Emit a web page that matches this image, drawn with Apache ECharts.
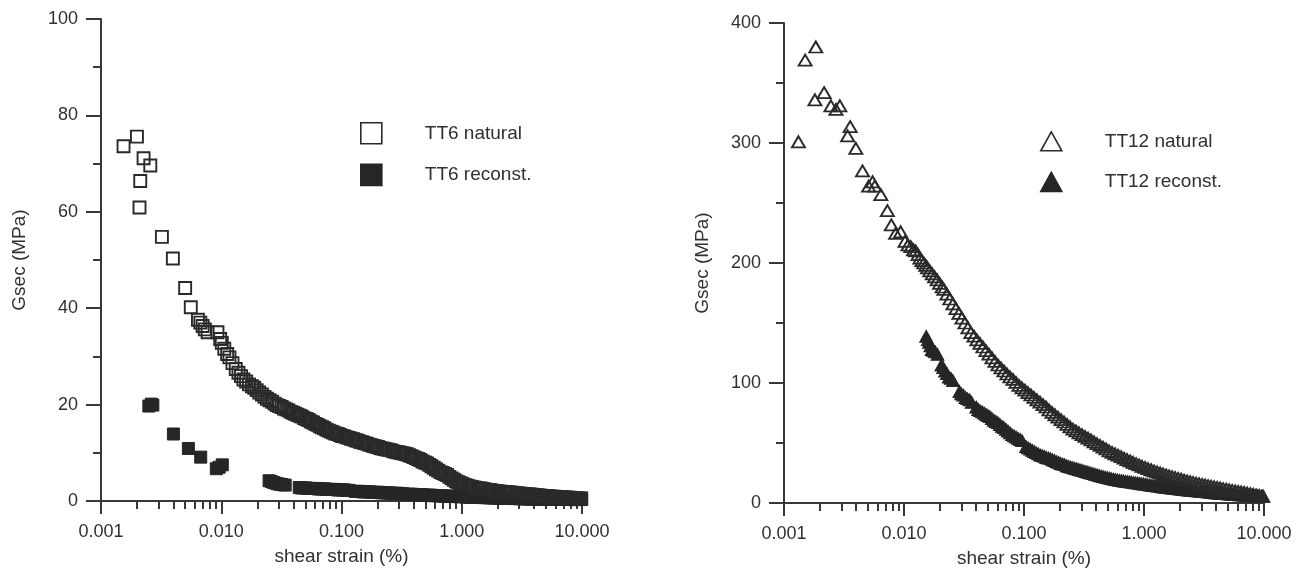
<!DOCTYPE html>
<html><head><meta charset="utf-8">
<script src="https://cdn.jsdelivr.net/npm/echarts@6/dist/echarts.min.js"></script>
<style>html,body{margin:0;padding:0;background:#fff}#c{width:1304px;height:573px}</style>
</head><body><div id="c"></div>
<script>
// ---- tick labels ----
const xTickValues = [0.001, 0.01, 0.1, 1, 10];
const xTickLabels = ['0.001', '0.010', '0.100', '1.000', '10.000'];
const xMinorTicks = [0.002,0.003,0.004,0.005,0.006,0.007,0.008,0.009,
  0.02,0.03,0.04,0.05,0.06,0.07,0.08,0.09,
  0.2,0.3,0.4,0.5,0.6,0.7,0.8,0.9,
  2,3,4,5,6,7,8,9];
const leftYTicks = [0, 20, 40, 60, 80, 100];
const rightYTicks = [0, 100, 200, 300, 400];

// ---- series names ----
const leftNames = ['TT6 natural', 'TT6 reconst.'];
const rightNames = ['TT12 natural', 'TT12 reconst.'];

// ---- TT6 natural: [shear strain %, Gsec MPa] ----
const tt6Natural = [
[0.00154,73.6],[0.00199,75.6],[0.00226,71.1],[0.00257,69.6],[0.00212,66.4],[0.00209,60.9],[0.00321,54.8],[0.00396,50.3],[0.00501,44.2],[0.00558,40.2],
[0.0064,37.6],[0.0067,37.0],[0.0070,36.3],[0.0073,35.6],[0.0077,35.0],[0.0093,35.0],[0.0098,33.6],[0.0101,32.8],[0.0106,31.6],[0.0112,30.5],
[0.0117,29.8],[0.0124,28.6],[0.0132,27.4],[0.0139,26.6],[0.0146,25.9],[0.0153,25.2],[0.0161,24.8],[0.0170,24.2],[0.0180,23.8],[0.0188,23.5],
[0.0197,23.0],[0.0207,22.5],[0.0218,22.1],[0.0229,21.6],[0.0240,21.2],[0.0252,20.9],[0.0265,20.6],[0.0278,20.2],[0.0290,19.9],[0.0303,19.7],
[0.0318,19.5],[0.0332,19.2],[0.0347,19.0],[0.0362,18.8],[0.0378,18.5],[0.0395,18.3],[0.0412,18.1],[0.0430,17.9],[0.0449,17.7],[0.0468,17.5],
[0.0489,17.2],[0.0510,17.0],[0.0532,16.8],[0.0555,16.5],[0.0580,16.3],[0.0605,16.0],[0.0632,15.8],[0.0660,15.5],[0.0688,15.3],[0.0718,15.1],
[0.0750,14.8],[0.0783,14.6],[0.0817,14.4],[0.0853,14.2],[0.0890,14.0],[0.0930,13.9],[0.0970,13.7],[0.1012,13.5],[0.1056,13.4],[0.1102,13.2],
[0.1150,13.1],[0.1200,12.9],[0.1253,12.8],[0.1308,12.6],[0.1365,12.5],[0.1425,12.3],[0.1487,12.2],[0.1552,12.0],[0.1620,11.9],[0.1690,11.7],
[0.1765,11.6],[0.1842,11.4],[0.1922,11.3],[0.2006,11.2],[0.2094,11.0],[0.2185,10.9],[0.2281,10.8],[0.2380,10.7],[0.2484,10.6],[0.2593,10.5],
[0.2706,10.3],[0.2825,10.2],[0.2948,10.1],[0.3077,10.0],[0.3211,9.9],[0.3352,9.8],[0.3498,9.7],[0.3651,9.5],[0.3811,9.3],[0.3978,9.1],
[0.4152,8.9],[0.4333,8.7],[0.4523,8.5],[0.4720,8.2],[0.4927,8.0],[0.5142,7.8],[0.5367,7.5],[0.5602,7.2],[0.5847,6.9],[0.6102,6.6],
[0.6369,6.3],[0.6647,6.0],[0.6938,5.8],[0.7241,5.6],[0.7558,5.4],[0.7888,5.0],[0.8233,4.7],[0.8593,4.4],[0.8968,4.1],[0.9360,3.9],
[0.9769,3.7],[1.0196,3.5],[1.064,3.3],[1.111,3.2],[1.159,3.0],[1.210,2.9],[1.263,2.8],[1.318,2.7],[1.376,2.6],[1.436,2.6],
[1.499,2.5],[1.564,2.4],[1.633,2.3],[1.704,2.3],[1.779,2.2],[1.856,2.1],[1.937,2.1],[2.022,2.0],[2.11,1.95],[2.20,1.9],
[2.30,1.85],[2.40,1.8],[2.51,1.75],[2.62,1.7],[2.73,1.65],[2.85,1.6],[2.97,1.55],[3.10,1.5],[3.24,1.45],[3.38,1.4],
[3.53,1.38],[3.68,1.34],[3.84,1.3],[4.01,1.25],[4.19,1.2],[4.37,1.15],[4.56,1.1],[4.76,1.05],[4.97,1.0],[5.19,0.98],
[5.41,0.95],[5.65,0.9],[5.90,0.88],[6.15,0.85],[6.42,0.8],[6.70,0.78],[7.00,0.75],[7.30,0.72],[7.62,0.7],[7.95,0.66],
[8.30,0.63],[8.66,0.6],[9.04,0.58],[9.44,0.55],[9.85,0.52],[10.28,0.5]
];

// ---- TT6 reconstituted ----
const tt6Reconst = [
[0.00250,19.7],[0.00262,20.1],[0.00270,19.9],[0.00400,13.9],[0.00533,10.9],[0.00675,9.1],[0.00910,6.7],[0.00960,7.0],[0.01020,7.5],
[0.0250,4.2],[0.0262,4.0],[0.0275,3.8],[0.0290,3.6],[0.0305,3.5],[0.0320,3.4],[0.0340,3.3],
[0.0445,2.8],[0.0465,2.7],[0.0487,2.7],[0.0510,2.7],[0.0533,2.6],[0.0558,2.6],[0.0584,2.6],[0.0611,2.6],[0.0640,2.5],[0.0670,2.5],
[0.0701,2.5],[0.0734,2.5],[0.0768,2.4],[0.0804,2.4],[0.0842,2.4],[0.0881,2.4],[0.0922,2.3],[0.0965,2.3],[0.1010,2.3],[0.1057,2.3],
[0.1106,2.2],[0.1158,2.2],
[0.1300,2.0],[0.1360,2.0],[0.1424,2.0],[0.1490,1.9],[0.1560,1.9],[0.1633,1.9],[0.1709,1.9],[0.1789,1.8],[0.1872,1.8],[0.1960,1.8],
[0.2051,1.8],[0.2147,1.7],[0.2247,1.7],[0.2352,1.7],[0.2462,1.7],[0.2577,1.6],[0.2697,1.6],[0.2823,1.6],[0.2955,1.6],[0.3093,1.5],
[0.3237,1.5],
[0.3550,1.4],[0.3716,1.4],[0.3890,1.4],[0.4072,1.3],[0.4262,1.3],[0.4461,1.3],[0.4669,1.3],[0.4887,1.2],[0.5115,1.2],[0.5354,1.2],
[0.5604,1.2],[0.5866,1.1],[0.6140,1.1],[0.6427,1.1],[0.6727,1.1],[0.7041,1.0],[0.7370,1.0],[0.7714,1.0],[0.8074,1.0],[0.8451,0.95],
[0.8846,0.95],[0.9259,0.9],[0.9691,0.9],[1.0144,0.9],[1.062,0.85],[1.111,0.85],[1.163,0.8],[1.217,0.8],[1.274,0.8],[1.334,0.75],
[1.396,0.75],[1.461,0.72],[1.529,0.7],[1.601,0.7],[1.675,0.68],[1.754,0.65],[1.835,0.65],[1.921,0.62],[2.011,0.6],[2.105,0.6],
[2.203,0.58],[2.306,0.56],[2.413,0.55],[2.526,0.54],[2.644,0.52],[2.767,0.5],[2.896,0.5],[3.032,0.48],[3.173,0.47],[3.321,0.46],
[3.476,0.45],[3.639,0.44],[3.809,0.43],[3.986,0.42],[4.172,0.41],[4.367,0.4],[4.571,0.4],[4.785,0.39],[5.008,0.38],[5.242,0.37],
[5.487,0.36],[5.743,0.35],[6.011,0.35],[6.292,0.34],[6.586,0.33],[6.893,0.33],[7.215,0.32],[7.552,0.31],[7.904,0.31],[8.273,0.3],
[8.659,0.3],[9.064,0.3],[9.487,0.3],[9.930,0.3],[10.2,0.3]
];

// ---- TT12 natural ----
const tt12Natural = [
[0.00132,301],[0.00150,369],[0.00184,380],[0.00181,336],[0.00216,342],[0.00246,331],[0.00271,328],[0.00292,331],[0.00356,313.6],[0.00339,306],
[0.00397,295.6],[0.00451,276.7],[0.00507,264],[0.00547,267.7],[0.00571,264],[0.00641,257],[0.00727,243.6],[0.00784,231.7],[0.00852,224.7],[0.00938,226],
[0.0102,218],[0.0108,215],[0.0114,213.6],[0.0120,211],[0.0125,210],[0.0131,207],[0.0136,204],[0.0141,202],[0.0146,200],[0.0152,198],
[0.0157,196],[0.0164,193.5],[0.0172,191],[0.0180,188.5],[0.0189,186],[0.0198,183],[0.0208,180],
[0.0215,178],[0.0228,174],[0.0241,170],[0.0256,166],[0.0271,162],[0.0287,158],[0.0304,154],[0.0322,150],[0.0341,146],[0.0361,142],
[0.0383,139],[0.0405,136],[0.0429,133],[0.0455,130],[0.0482,127],[0.0510,124],[0.0541,121],[0.0573,118],[0.0607,115],[0.0643,112.5],
[0.0681,110],[0.0721,107.5],[0.0764,105],[0.0809,103],[0.0857,100.5],[0.0908,98],[0.0962,96],[0.1019,94],[0.1079,92],[0.1143,90],
[0.1211,88],[0.1283,86],[0.1359,84],[0.1440,82],[0.1525,80],[0.1616,77.5],[0.1711,75.5],[0.1813,73.5],[0.1920,71.5],[0.2034,69.5],
[0.2155,67.5],[0.2283,65.5],[0.2418,63.5],[0.2561,61.5],[0.2713,60],[0.2874,58.5],[0.3045,57],[0.3225,55.5],[0.3417,54],[0.3619,52.5],
[0.3834,51],[0.4061,49.5],[0.4302,48],[0.4557,46.5],[0.4827,45],[0.5114,43.5],[0.5417,42.2],[0.5738,41],[0.6078,39.8],[0.6439,38.6],
[0.6821,37.4],[0.7225,36.2],[0.7654,35],[0.8108,33.9],[0.8589,32.8],[0.9098,31.7],[0.9638,30.6],[1.021,29.6],[1.081,28.6],[1.146,27.7],
[1.213,26.8],[1.285,25.9],[1.362,25.0],[1.442,24.2],[1.528,23.4],[1.619,22.6],[1.715,21.9],[1.816,21.2],[1.924,20.5],[2.038,19.8],
[2.159,19.1],[2.287,18.4],[2.423,17.8],[2.567,17.2],[2.719,16.6],[2.880,16.0],[3.051,15.5],[3.232,15.0],[3.424,14.5],[3.627,14.0],
[3.842,13.5],[4.070,13.0],[4.311,12.5],[4.567,12.0],[4.838,11.5],[5.125,11.0],[5.429,10.5],[5.751,10.0],[6.092,9.6],[6.453,9.2],
[6.836,8.8],[7.241,8.3],[7.671,7.8],[8.126,7.3],[8.608,6.8],[9.118,6.3],[9.659,5.8],[10.23,5.4]
];

// ---- TT12 reconstituted ----
const tt12Reconst = [
[0.0153,139],[0.0158,136],[0.0162,134],[0.0166,131],[0.0170,128],[0.0176,127],[0.0182,126],[0.0190,124],
[0.0205,115],[0.0212,113],[0.0220,110],[0.0228,108],[0.0236,105],[0.0246,104],[0.0256,102],
[0.0290,93],[0.0300,91],[0.0312,90],[0.0325,88],[0.0338,87],[0.0352,86],[0.0366,84],
[0.0400,80],[0.0415,78],[0.0430,77],[0.0448,76],
[0.0465,75],[0.0482,74],[0.0500,73],[0.0520,72],[0.0540,70.5],[0.0561,69],[0.0583,68],[0.0606,67],[0.0630,65.5],[0.0655,64],
[0.0680,63],[0.0707,61.5],[0.0735,60],[0.0764,58.5],[0.0794,57],[0.0826,56],[0.0858,55],[0.0892,54],[0.0928,53],[0.0964,52],
[0.104,47],[0.108,46],[0.1125,45],[0.117,44],[0.1216,43],[0.1264,42],[0.1315,41],[0.1367,40],[0.1421,39.5],[0.1477,39],
[0.1536,38],[0.1597,37.5],[0.166,37],[0.1726,36],[0.1795,35.5],[0.1866,34.5],[0.194,34],[0.2017,33],[0.2097,32.5],[0.218,32],
[0.2267,31],[0.2357,30.5],[0.245,30],[0.2548,29.5],[0.2649,29],[0.2754,28.5],[0.2863,28],[0.2977,27.5],[0.3095,27],[0.3218,26.5],
[0.3346,26],[0.3479,25.5],[0.3617,25],[0.3761,24.5],[0.391,24],[0.4065,23.5],[0.4226,23],[0.4394,22.5],[0.4569,22],[0.475,21.6],
[0.4939,21.2],[0.5135,20.8],[0.5339,20.4],[0.5551,20],[0.5771,19.6],[0.6,19.3],[0.6238,19.0],[0.6486,18.7],[0.6744,18.4],[0.7012,18.1],
[0.729,17.9],[0.758,17.7],[0.788,17.4],[0.8193,17.1],[0.8519,16.9],[0.8857,16.7],[0.9209,16.4],[0.9575,16.1],[0.9955,15.9],[1.035,15.6],
[1.076,15.3],[1.119,15.0],[1.163,14.8],[1.21,14.6],[1.258,14.4],[1.308,14.1],[1.36,13.9],[1.414,13.6],[1.47,13.4],[1.528,13.1],
[1.589,12.9],[1.652,12.7],[1.718,12.5],[1.786,12.3],[1.857,12.1],[1.931,11.9],[2.007,11.7],[2.087,11.5],[2.17,11.3],[2.256,11.1],
[2.346,10.9],[2.439,10.7],[2.536,10.5],[2.636,10.3],[2.741,10.1],[2.85,9.9],[2.963,9.8],[3.081,9.6],[3.203,9.5],[3.33,9.4],
[3.462,9.2],[3.6,9.0],[3.743,8.8],[3.891,8.6],[4.046,8.4],[4.206,8.3],[4.373,8.1],[4.547,8.0],[4.727,7.8],[4.915,7.7],
[5.11,7.5],[5.313,7.4],[5.524,7.2],[5.743,7.1],[5.971,7.0],[6.208,6.9],[6.455,6.8],[6.711,6.7],[6.977,6.6],[7.254,6.5],
[7.542,6.4],[7.841,6.3],[8.152,6.2],[8.476,6.1],[8.812,6.0],[9.162,5.9],[9.525,5.8],[9.903,5.7],[10.2,5.6]
];

// ---------- styling ----------
const FONT = '"Liberation Sans", Arial, Helvetica, sans-serif';
const TXT = '#303030';
const AX = '#383838';
const DARK = '#262626';

function xLabel(v) {
  for (let i = 0; i < xTickValues.length; i++) {
    if (Math.abs(Math.log10(v) - Math.log10(xTickValues[i])) < 1e-6) return xTickLabels[i];
  }
  return '';
}

function mainX(grid) {
  return {
    type: 'log', logBase: 10, gridIndex: grid, min: 0.001, max: 10, position: 'bottom',
    name: 'shear strain (%)', nameLocation: 'middle', nameGap: 46,
    nameTextStyle: { fontFamily: FONT, fontSize: 19, color: TXT },
    axisLine: { show: true, lineStyle: { color: AX, width: 2 } },
    axisTick: { show: true, length: 13, lineStyle: { color: AX, width: 2 } },
    axisLabel: { fontFamily: FONT, fontSize: 18, color: TXT, margin: 22, formatter: xLabel },
    splitLine: { show: false }, minorTick: { show: false }
  };
}
function minorX(grid) {
  return {
    type: 'log', logBase: 10, gridIndex: grid, min: 0.001, max: 10, position: 'bottom',
    axisLine: { show: false },
    axisTick: { show: true, length: 8, customValues: xMinorTicks, lineStyle: { color: AX, width: 2 } },
    axisLabel: { show: false },
    splitLine: { show: false }
  };
}
function yAx(grid, max, interval, ticks) {
  return {
    type: 'value', gridIndex: grid, min: 0, max: max, interval: interval,
    name: 'Gsec (MPa)', nameLocation: 'middle', nameGap: 72, nameRotate: 90,
    nameTextStyle: { fontFamily: FONT, fontSize: 19, color: TXT },
    axisLine: { show: true, lineStyle: { color: AX, width: 2 } },
    axisTick: { show: true, length: 15, lineStyle: { color: AX, width: 2 } },
    minorTick: { show: true, splitNumber: 2, length: 8, lineStyle: { color: AX, width: 2 } },
    axisLabel: { fontFamily: FONT, fontSize: 18, color: TXT, margin: 23,
      formatter: v => ticks.indexOf(v) >= 0 ? String(v) : '' },
    splitLine: { show: false }
  };
}

const openStyle = { color: 'rgba(255,255,255,0)', borderColor: '#2a2a2a', borderWidth: 1.9, opacity: 1 };
const fillStyle = { color: DARK, borderColor: DARK, borderWidth: 1, opacity: 1 };

const option = {
  animation: false,
  backgroundColor: '#fff',
  grid: [
    { left: 101, right: 722, top: 19, bottom: 72 },
    { left: 784, right: 40, top: 23, bottom: 70 }
  ],
  xAxis: [mainX(0), minorX(0), mainX(1), minorX(1)],
  yAxis: [yAx(0, 100, 20, leftYTicks), yAx(1, 400, 100, rightYTicks)],
  legend: [
    { data: leftNames, orient: 'vertical', left: 355, top: 117, itemWidth: 21, itemHeight: 21, itemGap: 19,
      itemStyle: { borderWidth: 1.6 },
      textStyle: { fontFamily: FONT, fontSize: 19, color: TXT, padding: [0, 0, 0, 38] } },
    { data: rightNames, orient: 'vertical', left: 1035, top: 126, itemWidth: 21, itemHeight: 19, itemGap: 20,
      itemStyle: { borderWidth: 1.6 },
      textStyle: { fontFamily: FONT, fontSize: 19, color: TXT, padding: [0, 0, 0, 38] } }
  ],
  series: [
    { name: leftNames[0], type: 'scatter', xAxisIndex: 0, yAxisIndex: 0, symbol: 'rect', symbolSize: 12,
      itemStyle: openStyle, data: tt6Natural, z: 3 },
    { name: leftNames[1], type: 'scatter', xAxisIndex: 0, yAxisIndex: 0, symbol: 'rect', symbolSize: 12,
      itemStyle: fillStyle, data: tt6Reconst, z: 2 },
    { name: rightNames[0], type: 'scatter', xAxisIndex: 2, yAxisIndex: 1, symbol: 'triangle', symbolSize: [13, 11],
      itemStyle: openStyle, data: tt12Natural, z: 3 },
    { name: rightNames[1], type: 'scatter', xAxisIndex: 2, yAxisIndex: 1, symbol: 'triangle', symbolSize: [13, 12],
      itemStyle: fillStyle, data: tt12Reconst, z: 2 }
  ]
};

const chart = echarts.init(document.getElementById('c'), null, { renderer: 'canvas' });
chart.setOption(option);
</script>
</body></html>
